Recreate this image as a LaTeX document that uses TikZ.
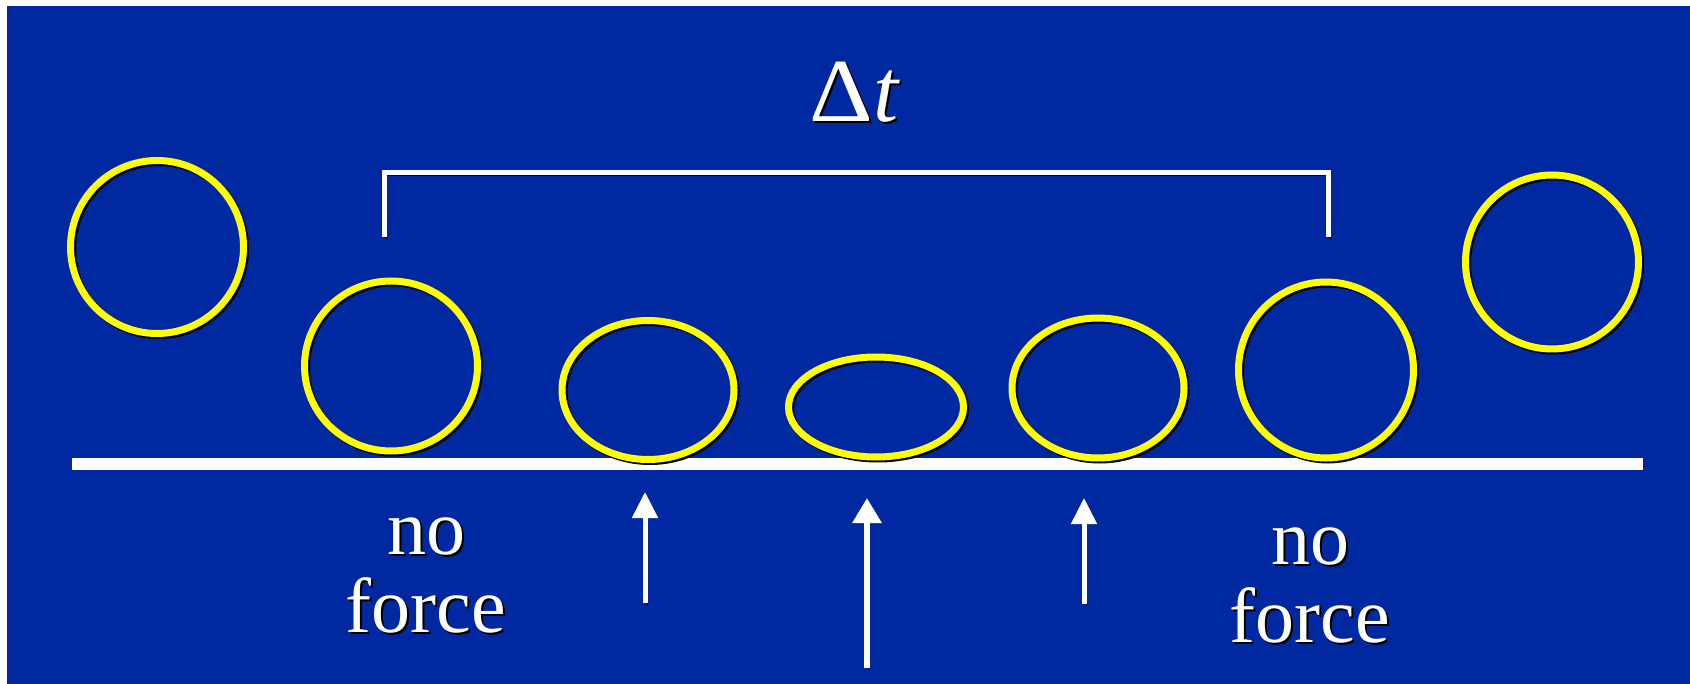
\documentclass[tikz,border=0pt]{standalone}
\usepackage{fontspec}
\setmainfont{Liberation Serif}
\usetikzlibrary{shapes.geometric,arrows.meta}
\definecolor{slideblue}{RGB}{0,40,160}
\definecolor{ballyellow}{RGB}{255,255,0}

\begin{document}
\begin{tikzpicture}[x=1pt,y=-1pt,
  shadowed/.style={preaction={draw=black, transform canvas={shift={(2pt,-2pt)}}}},
  ball/.style={ellipse, draw=ballyellow, line width=7pt, inner sep=0pt, shadowed},
  floor/.style={draw=white, line width=12pt, shadowed},
  bracket/.style={draw=white, line width=5pt, line join=miter, shadowed},
  force/.style={draw=white, line width=5pt, shadowed,
    -{Triangle[width=25pt,length=26pt]}},
  bigforce/.style={force, line width=6pt,
    -{Triangle[width=28pt,length=25pt]}},
  caption/.style={font=\fontsize{78pt}{78pt}\selectfont, align=center,
    anchor=base, inner sep=0pt, text=white},
  capshadow/.style={caption, text=black},
  bigtext/.style={font=\fontsize{90pt}{90pt}\selectfont},
]
% page and slide background
\useasboundingbox (0,0) rectangle (1690,684);
\fill[white] (0,0) rectangle (1690,684);
\fill[slideblue] (7,6) rectangle (1690,684);

% the floor
\coordinate (floorL) at (72,464.5);
\coordinate (floorR) at (1643,464.5);
\draw[floor] (floorL) -- (floorR);

% the ball before, during and after the contact
\node[ball, minimum width=173pt, minimum height=173pt] (b1) at (157,247) {};
\node[ball, minimum width=173pt, minimum height=170pt] (b2) at (391,366) {};
\node[ball, minimum width=172pt, minimum height=139pt] (b3) at (648,390) {};
\node[ball, minimum width=175pt, minimum height=100pt] (b4) at (876,407) {};
\node[ball, minimum width=172pt, minimum height=140pt] (b5) at (1098,388) {};
\node[ball, minimum width=175pt, minimum height=176pt] (b6) at (1326,370) {};
\node[ball, minimum width=173pt, minimum height=174pt] (b7) at (1552,262) {};

% contact-time bracket
\coordinate (brL) at (384,237);
\coordinate (brLT) at (384,173);
\coordinate (brRT) at (1328,173);
\coordinate (brR) at (1328,237);
\draw[bracket] (brL) -- (brLT) -- (brRT) -- (brR);

\node[capshadow, bigtext] (dt-sh) at (857,124) {\scalebox{1.1}[1]{Δ}\textit{t}};
\node[caption, bigtext] (dt) at (855,122) {\scalebox{1.1}[1]{Δ}\textit{t}};

% normal force from the floor
\coordinate (a1foot) at (645,603);
\coordinate (a1tip) at (645,492);
\coordinate (a2foot) at (867,668);
\coordinate (a2tip) at (867,498);
\coordinate (a3foot) at (1084,604);
\coordinate (a3tip) at (1084,498);
\draw[force] (a1foot) -- (a1tip);
\draw[bigforce] (a2foot) -- (a2tip);
\draw[force] (a3foot) -- (a3tip);

% labels (anchored at the baseline of the last line)
\node[capshadow] (nfL-sh) at (428,634) {no\\force};
\node[caption] (nfL) at (426,632) {no\\force};
\node[capshadow] (nfR-sh) at (1312,644) {no\\force};
\node[caption] (nfR) at (1310,642) {no\\force};
\end{tikzpicture}
\end{document}
